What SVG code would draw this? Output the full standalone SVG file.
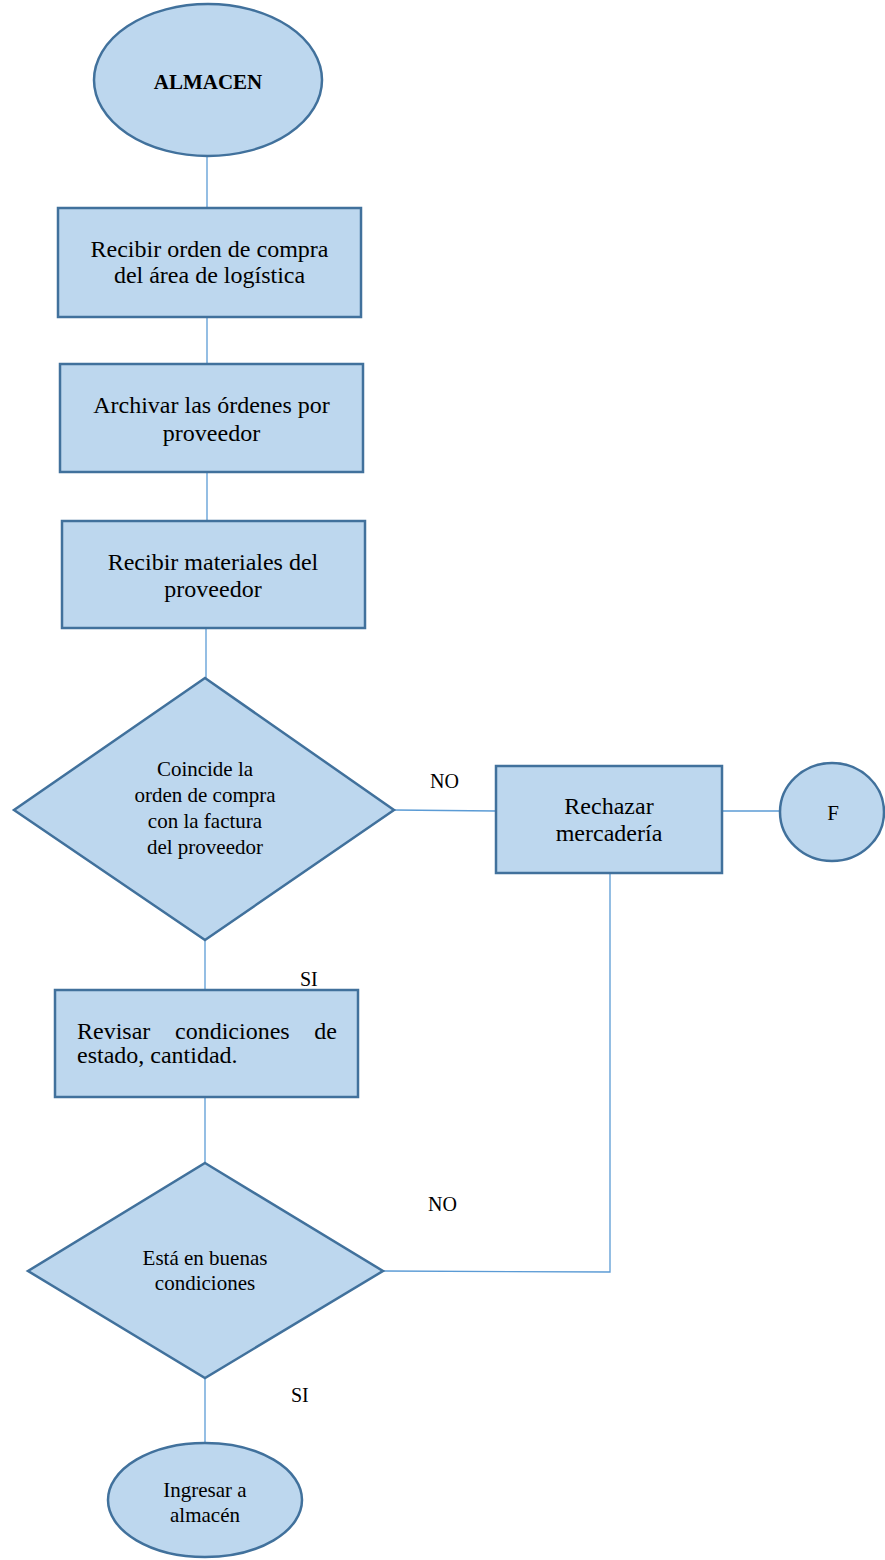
<svg xmlns="http://www.w3.org/2000/svg" width="885" height="1560" viewBox="0 0 885 1560">
<style>
.shape{fill:#BDD7EE;stroke:#41719C;stroke-width:2.5}
.conn{fill:none;stroke:#5B9BD5;stroke-width:1.3}
text{font-family:"Liberation Serif","Times New Roman",serif;fill:#000}
.bx{font-size:24px;text-anchor:middle}
.dm{font-size:21px;text-anchor:middle}
.lb{font-size:20px}
</style>
<rect width="885" height="1560" fill="#ffffff"/>
<g id="connectors">
<line class="conn" x1="207" y1="156" x2="207" y2="208"/>
<line class="conn" x1="207" y1="317" x2="207" y2="364"/>
<line class="conn" x1="207" y1="472" x2="207" y2="521"/>
<line class="conn" x1="206" y1="628" x2="206" y2="678"/>
<line class="conn" x1="394" y1="810" x2="496" y2="811"/>
<line class="conn" x1="722" y1="811" x2="780" y2="811"/>
<line class="conn" x1="205" y1="940" x2="205" y2="990"/>
<line class="conn" x1="205" y1="1097" x2="205" y2="1163"/>
<polyline class="conn" points="383,1271 610,1272 610,873"/>
<line class="conn" x1="205" y1="1378" x2="205" y2="1443"/>
</g>
<g id="almacen">
<ellipse class="shape" cx="208" cy="80" rx="114" ry="76"/>
<text x="208" y="89" style="font-size:21px;font-weight:bold;text-anchor:middle">ALMACEN</text>
</g>
<g id="recibir-orden">
<rect class="shape" x="58" y="208" width="303" height="109"/>
<text class="bx" x="209.5" y="257">Recibir orden de compra</text>
<text class="bx" x="209.5" y="283">del área de logística</text>
</g>
<g id="archivar">
<rect class="shape" x="60" y="364" width="303" height="108"/>
<text class="bx" x="211.5" y="413">Archivar las órdenes por</text>
<text class="bx" x="211.5" y="441">proveedor</text>
</g>
<g id="recibir-materiales">
<rect class="shape" x="62" y="521" width="303" height="107"/>
<text class="bx" x="213" y="570">Recibir materiales del</text>
<text class="bx" x="213" y="597">proveedor</text>
</g>
<g id="coincide">
<polygon class="shape" points="205,678 394,810 205,940 14,810"/>
<text class="dm" x="205" y="776">Coincide la</text>
<text class="dm" x="205" y="802">orden de compra</text>
<text class="dm" x="205" y="828">con la factura</text>
<text class="dm" x="205" y="854">del proveedor</text>
</g>
<g id="rechazar">
<rect class="shape" x="496" y="766" width="226" height="107"/>
<text class="bx" x="609" y="814">Rechazar</text>
<text class="bx" x="609" y="841">mercadería</text>
</g>
<g id="fin">
<ellipse class="shape" cx="832" cy="812" rx="52" ry="49"/>
<text x="833" y="820" style="font-size:21px;text-anchor:middle">F</text>
</g>
<g id="revisar">
<rect class="shape" x="55" y="990" width="303" height="107"/>
<text style="font-size:24px"><tspan x="77" y="1039">Revisar</tspan><tspan x="175" y="1039">condiciones</tspan><tspan x="337" y="1039" style="text-anchor:end">de</tspan></text>
<text x="77" y="1063" style="font-size:24px">estado, cantidad.</text>
</g>
<g id="buenas">
<polygon class="shape" points="205,1163 383,1271 205,1378 28,1271"/>
<text class="dm" x="205" y="1265">Está en buenas</text>
<text class="dm" x="205" y="1290">condiciones</text>
</g>
<g id="ingresar">
<ellipse class="shape" cx="205" cy="1500" rx="97" ry="57"/>
<text class="dm" x="205" y="1497">Ingresar a</text>
<text class="dm" x="205" y="1522">almacén</text>
</g>
<g id="labels">
<text class="lb" x="430" y="788">NO</text>
<text class="lb" x="300" y="986">SI</text>
<text class="lb" x="428" y="1211">NO</text>
<text class="lb" x="291" y="1402">SI</text>
</g>
</svg>
